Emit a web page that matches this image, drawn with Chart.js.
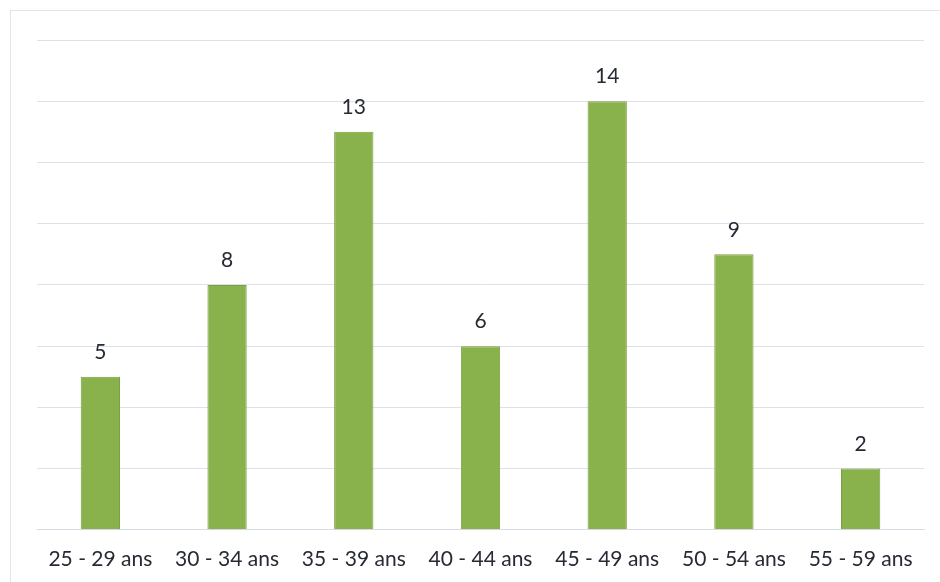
<!DOCTYPE html>
<html>
<head>
<meta charset="utf-8">
<script src="https://cdn.jsdelivr.net/npm/chart.js@4.4.0/dist/chart.umd.min.js"></script>
<style>
  html, body { margin: 0; padding: 0; background: #fff; }
  #wrap { position: relative; width: 940px; height: 582px; }
  #frame { position: absolute; left: 10px; top: 10px; right: 0; bottom: 0;
           border-left: 1px solid #dfe4ef; border-top: 1px solid #dfe4ef; }
  canvas { position: absolute; left: 0; top: 0; }
</style>
</head>
<body>
<div id="wrap">
  <div id="frame"></div>
  <canvas id="chart" width="940" height="582"></canvas>
</div>
<script>
// tranches d'age et effectifs
const categories = ["25 - 29 ans", "30 - 34 ans", "35 - 39 ans", "40 - 44 ans", "45 - 49 ans", "50 - 54 ans", "55 - 59 ans"];
const effectifs = [5, 8, 13, 6, 14, 9, 2];

// petit plugin pour les valeurs au-dessus des barres
const valueLabels = {
  id: "valueLabels",
  afterDatasetsDraw(chart) {
    const ctx = chart.ctx;
    const meta = chart.getDatasetMeta(0);
    ctx.save();
    ctx.font = "21px Lato";
    ctx.fillStyle = "#262a33";
    ctx.textAlign = "center";
    ctx.textBaseline = "bottom";
    meta.data.forEach(function (bar, i) {
      ctx.fillText(effectifs[i], bar.x, bar.y - 14);
    });
    ctx.restore();
  }
};

new Chart("chart", {
  type: "bar",
  data: {
    labels: categories,
    datasets: [{
      data: effectifs,
      backgroundColor: "#8ab24c",
      borderColor: "#7c9f42",
      borderWidth: 1,
      categoryPercentage: 1,
      barPercentage: 0.31
    }]
  },
  options: {
    responsive: false,
    animation: false,
    layout: { padding: { left: 37, right: 16, top: 40, bottom: 1 } },
    plugins: { legend: { display: false }, tooltip: { enabled: false } },
    scales: {
      x: {
        grid: { display: false },
        border: { color: "#d6dbe6" },
        ticks: { color: "#262a33", font: { family: "Lato", size: 21 }, padding: 9, maxRotation: 0 }
      },
      y: {
        min: 0, max: 16,
        ticks: { stepSize: 2, display: false },
        grid: { color: "#dde1ea", drawTicks: false },
        border: { display: false }
      }
    }
  },
  plugins: [valueLabels]
});
</script>
</body>
</html>
